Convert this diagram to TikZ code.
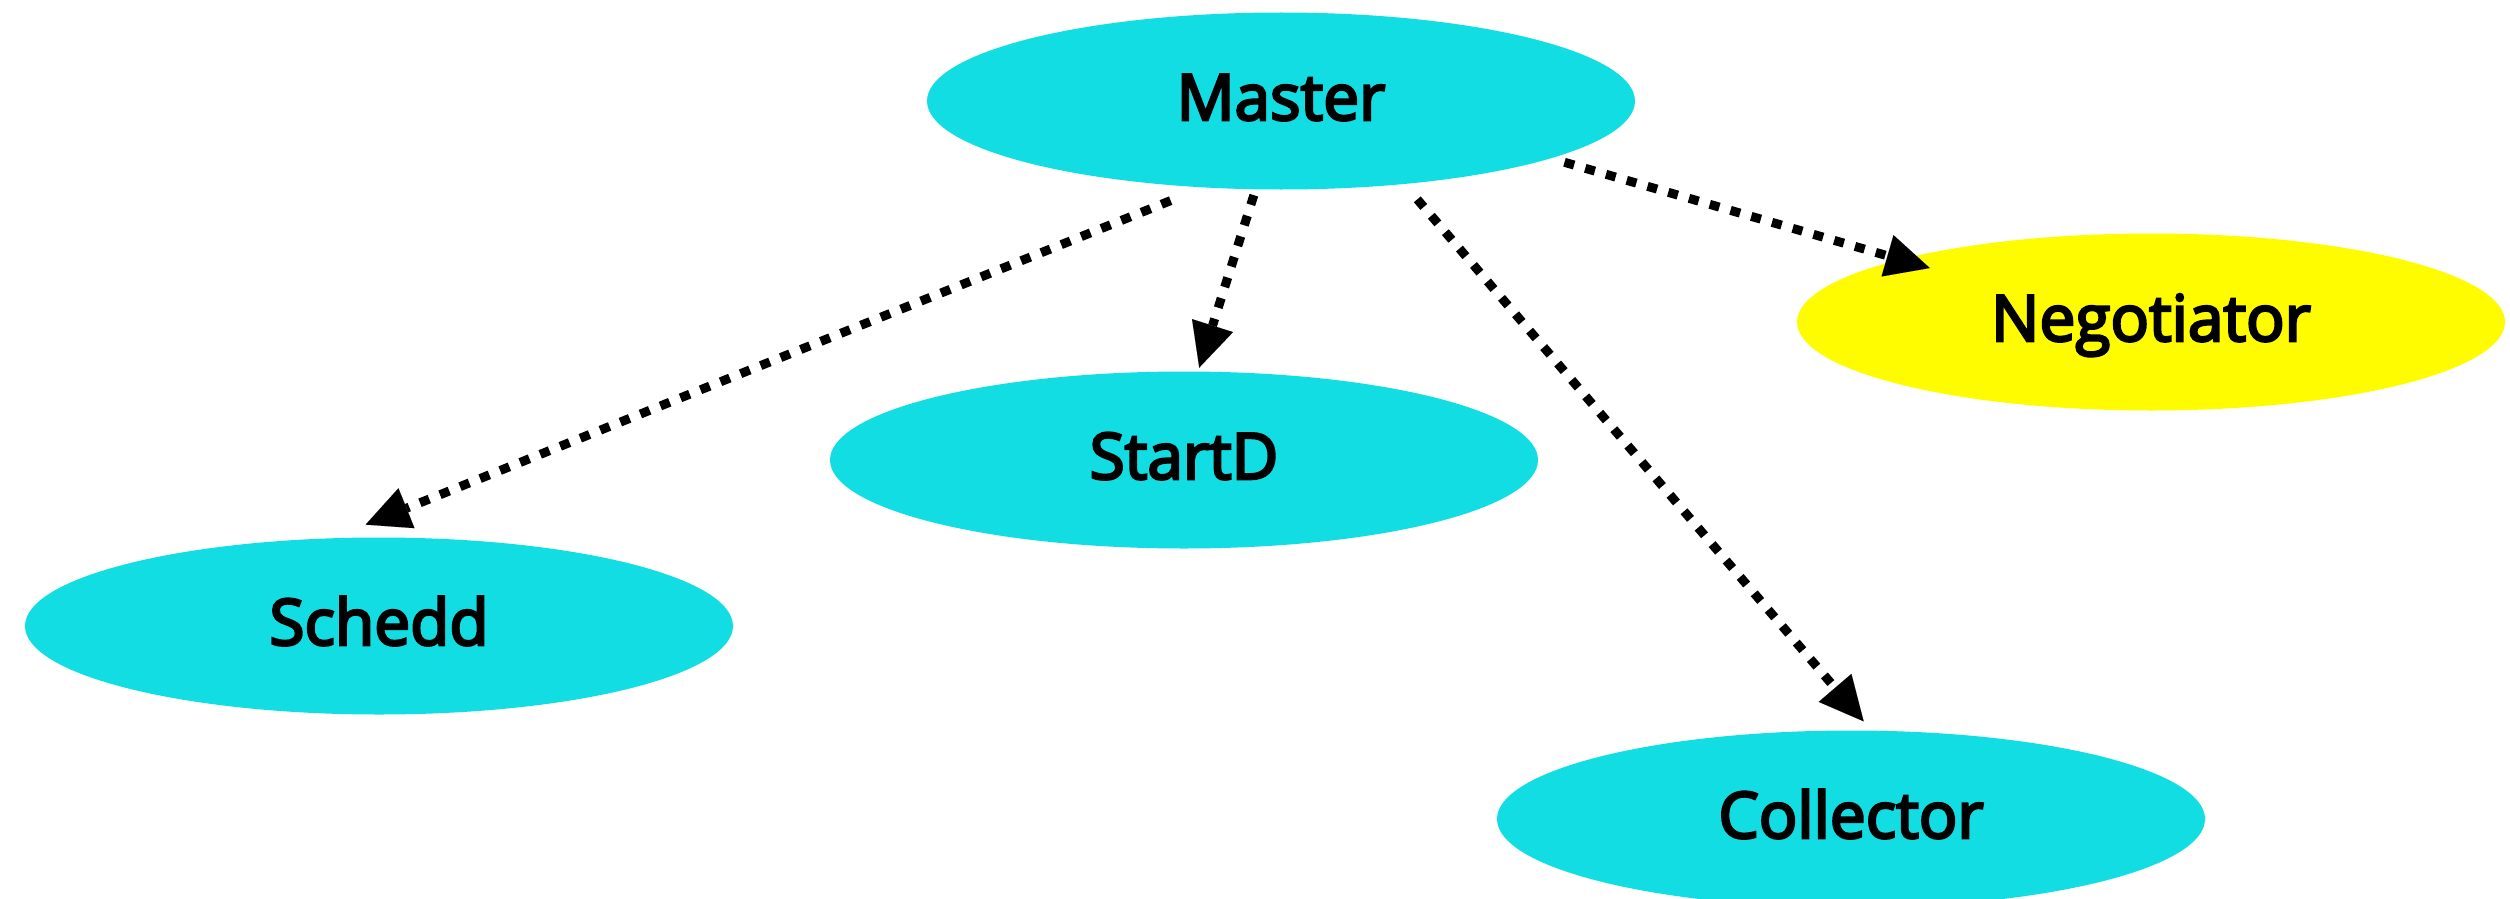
\documentclass[tikz,border=0pt]{standalone}
\usepackage{fontspec}
\font\lblraw="Open Sans:embolden=4" at 64pt
\usetikzlibrary{shapes.geometric,arrows.meta}
\definecolor{nodecyan}{HTML}{12DDE3}
\definecolor{nodeyellow}{HTML}{FFFC00}
\begin{document}
\begin{tikzpicture}[x=1pt,y=-1pt,
  proc/.style={ellipse,fill=nodecyan,minimum width=708pt,minimum height=177pt,
    inner sep=0pt,text height=48pt,text depth=10pt,
    font=\lblraw},
  edge/.style={line width=9pt,dash pattern=on 10pt off 11.6pt,
    -{Triangle[length=44pt,width=43pt,line width=0.01pt]}}]
\useasboundingbox (0,0) rectangle (2510,899);
\node[proc] (master) at (1281,101) {Master};
\node[proc,fill=nodeyellow] (neg) at (2151,322) {Negotiator};
\node[proc] (startd) at (1184,460) {StartD};
\node[proc] (schedd) at (379,626) {Schedd};
\node[proc] (coll) at (1851,819) {Collector};
\draw[edge,shorten <=35pt,shorten >=36pt] (master.228.9) -- (schedd.118);
\draw[edge,shorten <=6pt,shorten >=4pt] (master.254.1) -- (startd.81.1);
\draw[edge,shorten <=20pt,shorten >=12pt] (master.326) -- (coll.77.9);
\draw[edge,shorten <=14pt,shorten >=-31pt] (master.348.7) -- (neg.166.8);
\end{tikzpicture}
\end{document}
